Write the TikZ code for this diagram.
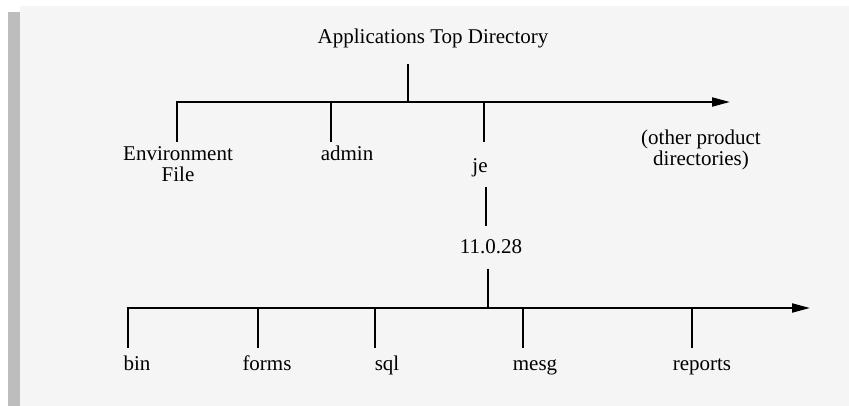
\documentclass[tikz,border=0pt]{standalone}
\usepackage{fontspec}
\setmainfont{Liberation Serif}
\usepackage{tikz}
\usetikzlibrary{arrows.meta,positioning}
\definecolor{panelgray}{RGB}{245,245,245}
\definecolor{bargray}{RGB}{189,189,189}

\begin{document}
\begin{tikzpicture}[x=1pt, y=-1pt,
    branch/.style={line width=2pt, line join=miter},
    busarrow/.style={branch, -{Triangle[length=18pt, width=9pt]}},
    dirname/.style={anchor=base, inner sep=0pt, align=center, font=\fontsize{21}{21}\selectfont}]
    \useasboundingbox (0,0) rectangle (849,406);
    % Panel and side bar
    \fill[panelgray] (20,6) rectangle (849,406);
    \fill[bargray] (8,12) rectangle (20,406);

    % Directory labels (two-line ones sit on their last baseline)
    \node[dirname] (top) at (433,44) {Applications Top Directory};
    \node[dirname] (env) at (178,182) {Environment\\File};
    \node[dirname] (admin) at (347,161) {admin};
    \node[dirname] (je) at (480,173) {je};
    \node[dirname] (other) at (701,166) {(other product\\directories)};
    \node[dirname] (ver) at (491,254) {11.0.28};
    \node[dirname] (bin) at (137,370) {bin};
    \node[dirname] (forms) at (267,370) {forms};
    \node[dirname] (sql) at (387,370) {sql};
    \node[dirname] (mesg) at (535,370) {mesg};
    \node[dirname] (reports) at (702,370) {reports};

    % Tree junctions
    \coordinate (topstem) at (408,64);
    \coordinate (topbus) at (408,102);
    \coordinate (topend) at (730,102);
    \coordinate (envend) at (177,142);
    \coordinate (envbus) at (177,102);
    \coordinate (adminend) at (331,142);
    \coordinate (adminbus) at (331,102);
    \coordinate (jeend) at (484,142);
    \coordinate (jebus) at (484,102);
    \coordinate (jeout) at (486,187);
    \coordinate (verin) at (486,226);
    \coordinate (verout) at (488,269);
    \coordinate (verbus) at (488,308);
    \coordinate (binend) at (128,348);
    \coordinate (binbus) at (128,308);
    \coordinate (botend) at (810,308);

    % Upper level
    \draw[branch] (topstem) -- (topbus);
    \draw[busarrow] (envend) -- (envbus) -- (topend);
    \draw[branch] (adminend) -- (adminbus);
    \draw[branch] (jeend) -- (jebus);
    \draw[branch] (jeout) -- (verin);

    % Lower level
    \draw[branch] (verout) -- (verbus);
    \draw[busarrow] (binend) -- (binbus) -- (botend);
    \draw[branch] (258,348) -- (258,308);
    \draw[branch] (375,348) -- (375,308);
    \draw[branch] (523,348) -- (523,308);
    \draw[branch] (692,348) -- (692,308);
\end{tikzpicture}
\end{document}
